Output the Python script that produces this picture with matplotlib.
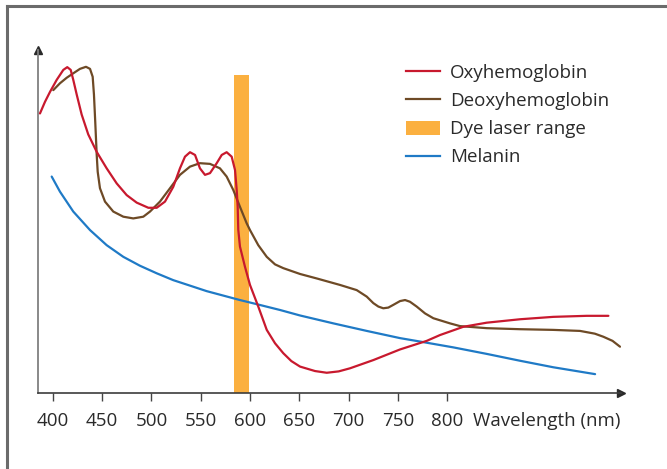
import matplotlib
matplotlib.use("Agg")
import matplotlib.pyplot as plt
from matplotlib.patches import Patch
from matplotlib.lines import Line2D

plt.rcParams['font.family'] = ['Open Sans', 'DejaVu Sans']

# ---- data (relative absorption, arbitrary units) ----
oxy_nm = [386.8, 391.9, 397.0, 403.8, 410.5, 414.5, 418.0, 420.6, 424.1, 429.1,
          435.8, 444.4, 454.5, 464.7, 474.8, 485.0, 496.8, 505.3, 513.7, 522.1,
          528.9, 534.0, 539.1, 544.2, 549.2, 554.3, 559.4, 566.2, 571.3, 576.3,
          581.4, 584.8, 586.5, 587.5, 588.1, 589.8, 594.9, 600.0, 608.4, 617.0,
          625.4, 633.8, 642.0, 650.8, 666.0, 677.9, 690.0, 701.5, 725.2, 752.3,
          779.4, 792.9, 816.5, 840.3, 874.1, 907.9, 941.8, 963.8]
oxy_val = [81.5, 84.9, 87.8, 91.3, 94.2, 95.0, 94.2, 91.3, 87.0, 81.2,
           75.4, 70.3, 65.5, 61.1, 57.7, 55.5, 54.0, 54.0, 55.8, 60.1,
           65.5, 68.9, 70.2, 69.4, 65.5, 63.6, 64.1, 67.0, 69.4, 70.2,
           68.9, 65.0, 59.2, 54.3, 47.6, 42.7, 36.8, 31.5, 25.2, 18.4,
           14.5, 11.6, 9.3, 7.7, 6.4, 5.9, 6.3, 7.2, 9.6, 12.7,
           15.2, 16.9, 19.3, 20.5, 21.5, 22.2, 22.5, 22.5]

deoxy_nm = [400.3, 407.1, 413.9, 420.6, 427.4, 433.5, 437.6, 440.3, 441.6, 442.9,
            444.4, 445.4, 447.7, 452.8, 461.2, 471.4, 481.5, 491.7, 498.5, 508.6,
            518.8, 528.9, 539.1, 549.2, 559.4, 569.5, 576.3, 583.0, 589.8, 596.6,
            600.0, 608.4, 617.0, 625.4, 633.8, 650.8, 667.7, 691.4, 708.3, 718.5,
            725.2, 730.3, 735.3, 740.4, 745.5, 752.3, 757.4, 762.4, 769.2, 777.7,
            786.1, 803.0, 813.2, 840.3, 874.1, 907.9, 935.0, 950.0, 958.7, 968.0,
            975.6]
deoxy_val = [88.3, 90.3, 91.9, 93.2, 94.5, 95.1, 94.5, 92.2, 87.0, 79.1,
             69.4, 64.5, 59.7, 55.8, 52.9, 51.4, 50.9, 51.4, 52.9, 55.8,
             59.7, 63.6, 66.0, 67.0, 66.8, 65.5, 63.1, 59.2, 54.3, 49.5,
             47.5, 43.1, 39.7, 37.5, 36.4, 34.7, 33.4, 31.5, 30.0, 28.1,
             26.2, 25.2, 24.7, 24.9, 25.7, 26.8, 27.1, 26.6, 25.2, 23.2,
             21.8, 20.3, 19.5, 18.9, 18.6, 18.4, 18.1, 17.3, 16.4, 15.2,
             13.5]

mel_nm = [398.7, 407.1, 420.6, 437.6, 454.5, 471.4, 488.3, 505.3, 522.1, 539.1,
          556.0, 572.9, 589.8, 606.8, 630.5, 650.8, 684.6, 718.5, 752.3, 772.6,
          806.4, 840.3, 874.1, 907.9, 950.3]
mel_val = [63.1, 58.7, 52.9, 47.5, 43.1, 39.7, 37.1, 34.9, 32.9, 31.3,
           29.7, 28.4, 27.1, 25.9, 24.2, 22.6, 20.3, 18.1, 16.0, 15.0,
           13.3, 11.4, 9.4, 7.5, 5.5]

laser_range = [584, 599]
x_ticks = [400, 450, 500, 550, 600, 650, 700, 750, 800]
labels = ["Oxyhemoglobin", "Deoxyhemoglobin", "Dye laser range", "Melanin"]

RED = "#c8192e"
BROWN = "#6e4a26"
ORANGE = "#fbb040"
BLUE = "#1f7ac6"
TXT = "#2a2a2a"
FS = 13.5

W, H = 667, 469
fig = plt.figure(figsize=(W / 100, H / 100), dpi=100)

# outer frame (top and left edges visible)
fig.add_artist(Line2D([7 / W, 1.0], [1 - 6 / H, 1 - 6 / H], color="#6b6b6b", lw=2.2))
fig.add_artist(Line2D([7 / W, 7 / W], [0, 1 - 6 / H], color="#6b6b6b", lw=2.2))

ax = fig.add_axes([38 / W, (H - 393) / H, 583 / W, 343 / H])
ax.set_xlim(384.8, 976.6)
ax.set_ylim(0, 100)

ax.axvspan(laser_range[0], laser_range[1], ymin=0, ymax=(393 - 75) / 343,
           color=ORANGE, lw=0, zorder=1)
kw = dict(lw=1.6, solid_capstyle='round', solid_joinstyle='round')
ax.plot(deoxy_nm, deoxy_val, color=BROWN, zorder=3, **kw)
ax.plot(mel_nm, mel_val, color=BLUE, zorder=3, **kw)
ax.plot(oxy_nm, oxy_val, color=RED, zorder=4, **kw)

for s in ["top", "right"]:
    ax.spines[s].set_visible(False)
ax.spines["left"].set_color("#808080")
ax.spines["left"].set_linewidth(1.3)
ax.spines["bottom"].set_color("#3c3c3c")
ax.spines["bottom"].set_linewidth(1.2)

# axis arrows
ax.plot([1], [0], marker=">", color=TXT, ms=6, transform=ax.transAxes, clip_on=False)
ax.plot([0], [1], marker="^", color=TXT, ms=6, transform=ax.transAxes, clip_on=False)

ax.set_yticks([])
ax.set_xticks(x_ticks)
ax.set_xticklabels([str(t) for t in x_ticks])
TL, PAD = 6, 8
ax.tick_params(axis="x", direction="out", length=TL, width=1.0, color="#444444",
               pad=PAD, labelsize=FS, labelcolor=TXT)
ax.annotate("Wavelength (nm)", xy=(826, 0), xycoords="data",
            xytext=(0, -(TL + PAD)), textcoords="offset points",
            ha="left", va="top", fontsize=FS, color=TXT, annotation_clip=False)

# legend
handles = [Line2D([], [], color=RED, lw=1.6),
           Line2D([], [], color=BROWN, lw=1.6),
           Patch(facecolor=ORANGE, edgecolor="none"),
           Line2D([], [], color=BLUE, lw=1.6)]
leg = fig.legend(handles, labels, loc="upper left",
                 bbox_to_anchor=(406 / W, 1 - 64 / H), frameon=False,
                 fontsize=FS, handlelength=1.8, handleheight=0.75,
                 handletextpad=0.53, labelspacing=0.54, borderpad=0,
                 borderaxespad=0)
for t in leg.get_texts():
    t.set_color(TXT)

fig.savefig("out.png", dpi=100)
